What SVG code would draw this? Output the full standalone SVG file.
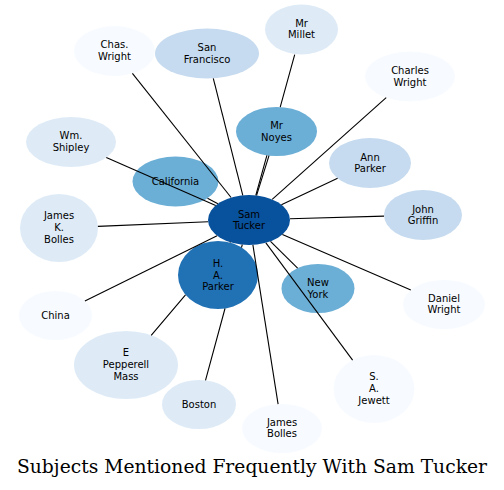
<svg xmlns="http://www.w3.org/2000/svg" width="504" height="490" viewBox="0 0 504 490">
<style>
.c0{fill:#08519c}.c1{fill:#2171b5}.c2{fill:#6baed6}.c3{fill:#c6dbef}.c4{fill:#deebf7}.c5{fill:#f7fbff}
text.l{font-family:"DejaVu Sans",sans-serif;font-size:10px;text-anchor:middle;fill:#000}
#edges path{stroke:#000;stroke-width:1.1;fill:none}
</style>
<rect width="504" height="490" fill="#fff"/>
<g id="nodes">
<g id="sam-tucker"><ellipse class="c0" cx="249" cy="220" rx="41" ry="25"/><text class="l"><tspan x="249" y="217.7">Sam</tspan><tspan x="249" y="229.3">Tucker</tspan></text></g>
<g id="ha-parker"><ellipse class="c1" cx="218" cy="275" rx="40" ry="34"/><text class="l"><tspan x="218" y="266.9">H.</tspan><tspan x="218" y="278.5">A.</tspan><tspan x="218" y="290.1">Parker</tspan></text></g>
<g id="california"><ellipse class="c2" cx="175.5" cy="181.5" rx="43" ry="25"/><text class="l" x="175.5" y="185">California</text></g>
<g id="mr-noyes"><ellipse class="c2" cx="276.5" cy="131.5" rx="40.5" ry="24.5"/><text class="l"><tspan x="276.5" y="129.2">Mr</tspan><tspan x="276.5" y="140.8">Noyes</tspan></text></g>
<g id="new-york"><ellipse class="c2" cx="318" cy="288.5" rx="36.5" ry="24.5"/><text class="l"><tspan x="318" y="286.2">New</tspan><tspan x="318" y="297.8">York</tspan></text></g>
<g id="ann-parker"><ellipse class="c3" cx="370" cy="163" rx="41" ry="25"/><text class="l"><tspan x="370" y="160.7">Ann</tspan><tspan x="370" y="172.3">Parker</tspan></text></g>
<g id="john-griffin"><ellipse class="c3" cx="423" cy="215" rx="39" ry="25"/><text class="l"><tspan x="423" y="212.7">John</tspan><tspan x="423" y="224.3">Griffin</tspan></text></g>
<g id="san-francisco"><ellipse class="c3" cx="207" cy="53.5" rx="52" ry="25"/><text class="l"><tspan x="207" y="51.2">San</tspan><tspan x="207" y="62.8">Francisco</tspan></text></g>
<g id="charles-wright"><ellipse class="c5" cx="410" cy="76.5" rx="45" ry="25"/><text class="l"><tspan x="410" y="74.2">Charles</tspan><tspan x="410" y="85.8">Wright</tspan></text></g>
<g id="mr-millet"><ellipse class="c4" cx="301.5" cy="29.5" rx="36.5" ry="25"/><text class="l"><tspan x="301.5" y="26.7">Mr</tspan><tspan x="301.5" y="38.3">Millet</tspan></text></g>
<g id="chas-wright"><ellipse class="c5" cx="114.5" cy="51" rx="40.5" ry="25"/><text class="l"><tspan x="114.5" y="48.2">Chas.</tspan><tspan x="114.5" y="59.8">Wright</tspan></text></g>
<g id="wm-shipley"><ellipse class="c4" cx="71" cy="142" rx="45" ry="25"/><text class="l"><tspan x="71" y="139.2">Wm.</tspan><tspan x="71" y="150.8">Shipley</tspan></text></g>
<g id="james-k-bolles"><ellipse class="c4" cx="59" cy="228" rx="39" ry="34"/><text class="l"><tspan x="59" y="219.4">James</tspan><tspan x="59" y="231">K.</tspan><tspan x="59" y="242.6">Bolles</tspan></text></g>
<g id="china"><ellipse class="c5" cx="55.5" cy="315.5" rx="36.5" ry="24.5"/><text class="l" x="55.5" y="318.5">China</text></g>
<g id="e-pepperell-mass"><ellipse class="c4" cx="126" cy="365" rx="52" ry="34"/><text class="l"><tspan x="126" y="356.4">E</tspan><tspan x="126" y="368">Pepperell</tspan><tspan x="126" y="379.6">Mass</tspan></text></g>
<g id="boston"><ellipse class="c4" cx="199" cy="404.5" rx="37" ry="24.5"/><text class="l" x="199" y="407.5">Boston</text></g>
<g id="james-bolles"><ellipse class="c5" cx="282" cy="428.5" rx="40" ry="24.5"/><text class="l"><tspan x="282" y="425.7">James</tspan><tspan x="282" y="437.3">Bolles</tspan></text></g>
<g id="sa-jewett"><ellipse class="c5" cx="374" cy="389" rx="40.5" ry="34"/><text class="l"><tspan x="374" y="380.4">S.</tspan><tspan x="374" y="392">A.</tspan><tspan x="374" y="403.6">Jewett</tspan></text></g>
<g id="daniel-wright"><ellipse class="c5" cx="444" cy="304.5" rx="41" ry="24.5"/><text class="l"><tspan x="444" y="301.7">Daniel</tspan><tspan x="444" y="313.3">Wright</tspan></text></g>
</g>
<g id="edges">
<path d="M213.3,78.3L242.8,195.3"/>
<path d="M294.7,54.6L280.2,107.1M266.9,155.3L255.8,195.4"/>
<path d="M269,155.6L256.6,195.4"/>
<path d="M386.2,97.7L272.2,199.4"/>
<path d="M337.6,178.3L281.4,204.7"/>
<path d="M384,216.1L290,218.8"/>
<path d="M410.8,290.1L282.4,234.5"/>
<path d="M352.6,360.1L265.9,242.8"/>
<path d="M297.6,268.2L270.5,241.3"/>
<path d="M278.1,404.1L252.9,244.9"/>
<path d="M205.5,380.4L225,308.5M241.5,247.5L242.3,244.7"/>
<path d="M151.2,335.3L185.5,294.8M229.9,242.5L230.4,241.9"/>
<path d="M84.9,301L217.1,235.7"/>
<path d="M97.9,226.4L208.1,221.7"/>
<path d="M106.3,157.5L215.7,205.4"/>
<path d="M207.5,198.2L217.9,203.7"/>
<path d="M132.4,73.4L231.1,197.5"/>
</g>
<text x="17" y="473.3" font-family="DejaVu Serif, serif" font-size="18" textLength="470" lengthAdjust="spacingAndGlyphs" fill="#000">Subjects Mentioned Frequently With Sam Tucker</text>
</svg>
